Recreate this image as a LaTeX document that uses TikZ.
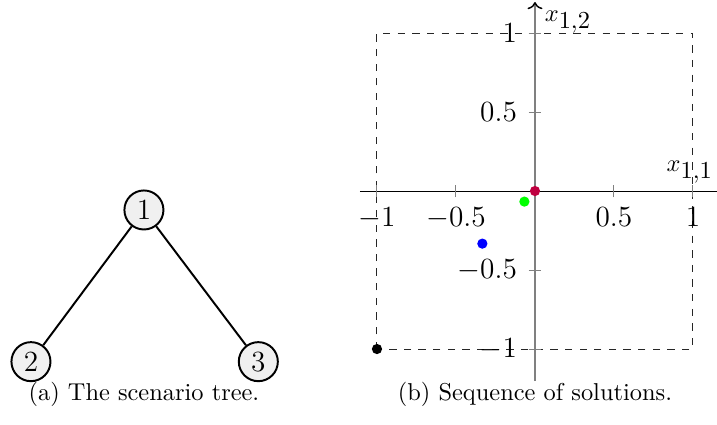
\documentclass[tikz,border=0pt]{standalone}
\usepackage{xcolor}
\usepackage{amsmath,amssymb}
\usepackage{tikz}
\usetikzlibrary{arrows.meta,positioning}

\begin{document}
\begin{tikzpicture}[
	x=64.75pt, y=64.75pt,
	font=\large,
	vtx/.style={circle, draw=black, fill=black!6, thick, minimum size=16pt, inner sep=0pt},
	edg/.style={thick, black},
	tck/.style={gray, thin},
	sol/.style={circle, fill=#1, inner sep=0pt, minimum size=4.2pt},
	capt/.style={font=\normalsize},
	axl/.style={font=\normalsize},
]
\useasboundingbox (-3.386,-1.475) rectangle (1.152,1.209);
% Esquerda: arvore de cenarios
\node[vtx] (n1) at (-2.475,-0.120) {$1$};
\node[vtx] (n2) at (-3.190,-1.080) {$2$};
\node[vtx] (n3) at (-1.751,-1.080) {$3$};
\draw[edg] (n1)--(n2); \draw[edg] (n1)--(n3);
\node[capt] (capa) at (-2.475,-1.285) {(a) The scenario tree.};
% Direita: sequencia de solucoes
\draw[black!85, dashed] (-1,-1) rectangle (1,1);
\draw (-1.108,0) -- (1.152,0);
\draw[gray, line width=0.6pt, -{To[color=black]}] (0,-1.203) -- (0,1.196);
\foreach \t in {-1,-0.5,0.5,1} {
	\draw[tck] (\t,-0.04) -- (\t,0.04);
	\draw[tck] (-0.04,\t) -- (0.04,\t);
	\node[below] at (\t,-0.05) {$\t$};
	\node[left] at (-0.06,\t) {$\t$};
}
\node[axl] (lx2) at (0.209,1.07) {$x_{\textstyle 1{,}2}$};
\node[axl] (lx1) at (0.980,0.12) {$x_{\textstyle 1{,}1}$};
\node[sol=black] (p0) at (-1,-1) {};
\node[sol=blue] (p1) at (-0.333,-0.333) {};
\node[sol=green] (p2) at (-0.067,-0.067) {};
\node[sol=purple] (p3) at (0,0) {};
\node[capt] (capb) at (0,-1.285) {(b) Sequence of solutions.};
\end{tikzpicture}
\end{document}
